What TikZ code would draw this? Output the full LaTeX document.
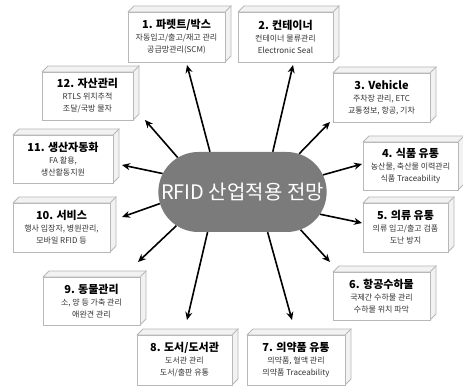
\documentclass[tikz,border=0pt]{standalone}
\usepackage{fontspec}
\setmainfont{Noto Sans CJK KR}
\usetikzlibrary{shapes.misc,arrows.meta}
\definecolor{edgegray}{HTML}{B8B8B8}
\definecolor{sidegray}{HTML}{F2F2F2}
\definecolor{hubgray}{HTML}{7B7B7B}
\definecolor{bodytext}{HTML}{333333}
\tikzset{
  cube/.style={draw=edgegray, line width=0.8pt, fill=white, align=center, inner sep=1pt},
  cubeside/.style={draw=edgegray, line width=0.8pt, fill=sidegray, line join=round},
  arr/.style={line width=1.6pt, -{Stealth[length=8pt,width=7pt]}},
  hub/.style={rounded rectangle, fill=hubgray, text=white, minimum width=175pt, minimum height=80pt,
    font=\fontsize{20}{24}\selectfont},
  ttl/.style={},
}
\newcommand\boxtitle[1]{{\fontsize{11}{15}\selectfont\bfseries #1}}
\newcommand\boxbody[1]{{\fontsize{8}{11.5}\selectfont\color{bodytext}#1}}
\newcommand\cubenode[6]{%
  \draw[cubeside] ([shift={(-#4/2,-#5/2)}]#2,#3) -- ++(6,-6) -- ++(#4,0) -- ++(0,#5) -- ++(-6,6) -- ++(0,-#5) -- cycle;
  \node[cube, minimum width=#4pt, minimum height=#5pt] (#1) at (#2,#3) {#6};
  \draw[cubeside, fill=none] (#1.north east) -- ++(6,-6);
}
\begin{document}
\begin{tikzpicture}[x=1pt,y=-1pt]
\useasboundingbox (0,0) rectangle (463,387);
\fill[white] (0,0) rectangle (463,387);

\cubenode{b1}{176.5}{37}{97}{50}{\boxtitle{1. 파렛트/박스}\\\boxbody{자동입고/출고/재고 관리}\\\boxbody{공급망관리(SCM)}}
\cubenode{b2}{285.5}{37}{95}{50}{\boxtitle{2. 컨테이너}\\\boxbody{컨테이너 물류관리}\\\boxbody{Electronic Seal}}
\cubenode{b3}{381.5}{97.5}{97}{49}{\boxtitle{3. Vehicle}\\\boxbody{주차장 관리, ETC}\\\boxbody{교통정보, 항공, 기차}}
\cubenode{b4}{410.5}{166}{95}{48}{\boxtitle{4. 식품 유통}\\\boxbody{농산물, 축산물 이력관리}\\\boxbody{식품 Traceability}}
\cubenode{b5}{405.5}{227.5}{85}{49}{\boxtitle{5. 의류 유통}\\\boxbody{의류 입고/출고 검품}\\\boxbody{도난 방지}}
\cubenode{b6}{381.5}{296}{97}{48}{\boxtitle{6. 항공수하물}\\\boxbody{국제간 수하물 관리}\\\boxbody{수하물 위치 파악}}
\cubenode{b7}{296}{360}{98}{50}{\boxtitle{7. 의약품 유통}\\\boxbody{의약품, 혈액 관리}\\\boxbody{의약품 Traceability}}
\cubenode{b8}{184.5}{360}{95}{50}{\boxtitle{8. 도서/도서관}\\\boxbody{도서관 관리}\\\boxbody{도서/출판 유통}}
\cubenode{b9}{91.5}{301}{97}{48}{\boxtitle{9. 동물관리}\\\boxbody{소, 양 등 가축 관리}\\\boxbody{애완견 관리}}
\cubenode{b10}{61.5}{227.5}{97}{49}{\boxtitle{10. 서비스}\\\boxbody{행사 입장자, 병원관리,}\\\boxbody{모바일 RFID 등}}
\cubenode{b11}{63}{159}{100}{48}{\boxtitle{11. 생산자동화}\\\boxbody{FA 활용,}\\\boxbody{생산활동지원}}
\cubenode{b12}{87.5}{96}{91}{48}{\boxtitle{12. 자산관리}\\\boxbody{RTLS 위치추적}\\\boxbody{조달/국방 물자}}

\node[hub] (c) at (242.5,192) {RFID 산업적용 전망};

\coordinate (t1) at (187,65);
\coordinate (t2) at (293,65);
\coordinate (t3) at (330,122);
\coordinate (t4) at (362,164);
\coordinate (t5) at (362,223);
\coordinate (t6) at (330,262);
\coordinate (t7) at (292,320);
\coordinate (t8) at (187,320);
\coordinate (t9) at (138,262);
\coordinate (t10) at (122,217);
\coordinate (t11) at (122,165);
\coordinate (t12) at (145,120);

\draw[arr] (c.129) -- (t1);
\draw[arr] (c.53) -- (t2);
\draw[arr] (c.34) -- (t3);
\draw[arr] (c.12.7) -- (t4);
\draw[arr] (c.344) -- (t5);
\draw[arr] (c.327.4) -- (t6);
\draw[arr] (c.302) -- (t7);
\draw[arr] (c.229) -- (t8);
\draw[arr] (c.207) -- (t9);
\draw[arr] (c.188.6) -- (t10);
\draw[arr] (c.167.7) -- (t11);
\draw[arr] (c.152) -- (t12);
\end{tikzpicture}
\end{document}
